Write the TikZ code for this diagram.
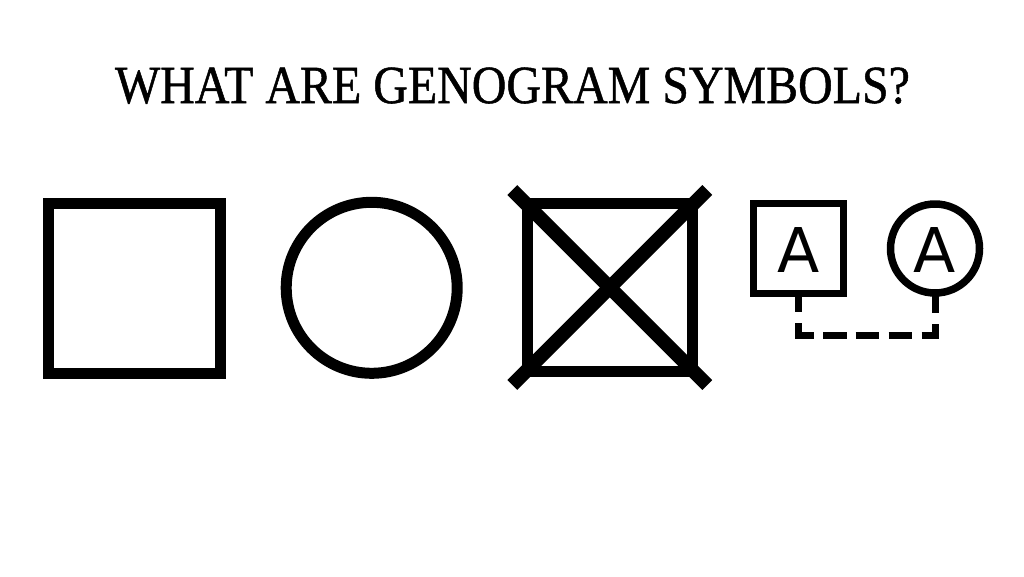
\documentclass[tikz,border=0pt]{standalone}
\usepackage{fontspec}
\setmainfont{Liberation Serif}
\newfontfamily\titlefont[FakeBold=1.0]{Liberation Serif}
\newfontfamily\letterfont{DejaVu Sans}
\begin{document}
\begin{tikzpicture}[x=1pt,y=-1pt,
  sym/.style={draw=black,fill=none,inner sep=0pt,outer sep=0pt},
  bigsq/.style={sym,rectangle,line width=11pt,minimum width=172pt,minimum height=170pt},
  bigcirc/.style={sym,circle,line width=11pt,minimum size=171pt},
  smallsq/.style={sym,rectangle,line width=7pt,minimum width=90pt,minimum height=90pt},
  smallcirc/.style={sym,circle,line width=7.5pt,minimum size=89pt},
  letter/.style={font=\letterfont\fontsize{61.7}{70}\selectfont,inner sep=0pt,anchor=base},
  crossline/.style={line width=14pt,line cap=butt},
  link/.style={line width=7pt,line cap=butt,line join=miter,
    dash pattern=on 18.5pt off 11pt on 27pt off 9.5pt on 23.5pt off 9pt on 23.5pt off 9.5pt on 23.5pt off 9.5pt on 25pt off 11pt on 18.5pt off 100pt}
]
\useasboundingbox (0,0) rectangle (1024,576);
\fill[white] (0,0) rectangle (1024,576);

% title
\node[inner sep=0pt,anchor=base] (title) at (512.5,103)
  {\resizebox{795pt}{35.5pt}{\titlefont\fontsize{56}{60}\selectfont WHAT ARE GENOGRAM SYMBOLS?}};

% male
\node[bigsq] (male) at (134,288) {};
% female
\node[bigcirc] (female) at (371.7,287.8) {};
% deceased
\node[bigsq,minimum width=165.5pt,minimum height=168pt] (dead) at (609.75,287.5) {};
\coordinate (dtl) at (512.25,190);
\coordinate (dbr) at (707.25,385);
\coordinate (dtr) at (707.25,190);
\coordinate (dbl) at (512.25,385);
\draw[crossline] (dtl) -- (dbr);
\draw[crossline] (dtr) -- (dbl);

% adopted pair
\node[smallsq] (asq) at (798.5,248.5) {};
\node[letter] (al) at (798.5,272) {A};
\node[smallcirc] (acirc) at (935,248.5) {};
\node[letter] (ar) at (935,272) {A};
\draw[link] (asq.south) -- ++(0,41.5) -| (acirc.south);
\end{tikzpicture}
\end{document}
